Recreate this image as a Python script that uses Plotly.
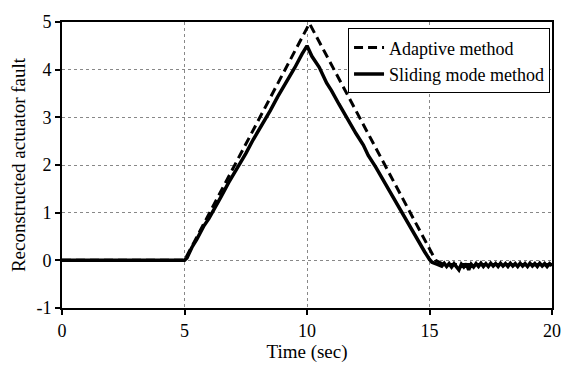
import plotly.graph_objects as go

# Adaptive method (dashed)
adaptive_t = [0, 5.0, 10.1, 15.25, 15.6, 20]
adaptive_y = [0, 0.0, 4.97, 0.0, -0.09, -0.09]

# Sliding mode method (solid, with chattering)
sliding_t = [0, 5.0, 5.1, 5.3, 5.5, 5.8, 6.0, 6.3, 6.5, 6.8, 7.0, 7.3, 7.5, 7.8, 8.0, 8.3, 8.5,
             8.8, 9.0, 9.3, 9.5, 9.8, 10.0, 10.2, 10.5, 10.8, 11.0, 11.3, 11.5, 11.8, 12.0,
             12.3, 12.5, 12.8, 13.0, 13.3, 13.5, 13.8, 14.0, 14.3, 14.5, 14.8, 15.0, 15.1,
             15.3, 15.5, 15.6, 15.7, 15.8, 15.9, 16.0, 16.1, 16.2, 16.3, 16.4, 16.5, 16.6,
             16.7, 16.8, 16.9, 17.0, 17.1, 17.2, 17.3, 17.4, 17.5, 17.6, 17.7, 17.8, 17.9,
             18.0, 18.1, 18.2, 18.3, 18.4, 18.5, 18.6, 18.7, 18.8, 18.9, 19.0, 19.1, 19.2,
             19.3, 19.4, 19.5, 19.6, 19.7, 19.8, 19.9, 20.0]
sliding_y = [0, 0.0, 0.05, 0.27, 0.44, 0.73, 0.88, 1.18, 1.34, 1.63, 1.80, 2.08, 2.24, 2.53,
             2.70, 2.98, 3.14, 3.43, 3.60, 3.88, 4.04, 4.33, 4.50, 4.28, 4.05, 3.72, 3.56, 3.28,
             3.10, 2.86, 2.66, 2.42, 2.20, 1.96, 1.78, 1.50, 1.32, 1.06, 0.88, 0.60, 0.42,
             0.18, 0.02, -0.04, -0.08, -0.12, -0.06, -0.13, -0.07, -0.14, -0.07, -0.15, -0.20,
             -0.08, -0.14, -0.07, -0.20, -0.08, -0.14, -0.07, -0.13, -0.06, -0.13, -0.07,
             -0.13, -0.06, -0.12, -0.07, -0.13, -0.06, -0.12, -0.07, -0.13, -0.06, -0.12,
             -0.07, -0.13, -0.06, -0.12, -0.07, -0.13, -0.06, -0.12, -0.07, -0.13, -0.06,
             -0.12, -0.07, -0.13, -0.07, -0.11]

font_family = "Liberation Serif"

fig = go.Figure()
fig.add_trace(go.Scatter(x=adaptive_t, y=adaptive_y, mode="lines", name="Adaptive method",
                         line=dict(color="black", width=3, dash="9px,5px")))
fig.add_trace(go.Scatter(x=sliding_t, y=sliding_y, mode="lines", name="Sliding mode method",
                         line=dict(color="black", width=3.5)))

axis_common = dict(showline=True, linecolor="black", linewidth=2, mirror=True,
                   ticks="outside", ticklen=5, tickwidth=1.5, tickcolor="black",
                   showgrid=True, gridcolor="#888888", gridwidth=1, griddash="dot",
                   zeroline=False, tickfont=dict(family=font_family, size=18, color="black"))

fig.update_layout(
    width=573, height=366,
    margin=dict(l=62, r=15, t=15, b=54),
    plot_bgcolor="white", paper_bgcolor="white",
    font=dict(family=font_family, color="black"),
    showlegend=True,
    legend=dict(x=0.996, y=0.978, xanchor="right", yanchor="top",
                bgcolor="white", bordercolor="black", borderwidth=1,
                font=dict(family=font_family, size=18, color="black"),
                tracegroupgap=0, itemwidth=30),
    xaxis=dict(range=[0, 20], tickvals=[0, 5, 10, 15, 20],
               title=dict(text="Time (sec)", font=dict(family=font_family, size=19), standoff=0),
               **axis_common),
    yaxis=dict(range=[-1, 5], tickvals=[-1, 0, 1, 2, 3, 4, 5],
               ticktext=["-1", "0", "1", "2", "3", "4", "5"],
               title=dict(text="Reconstructed actuator fault", font=dict(family=font_family, size=19), standoff=6),
               **axis_common),
)

fig.write_html("out.html")
